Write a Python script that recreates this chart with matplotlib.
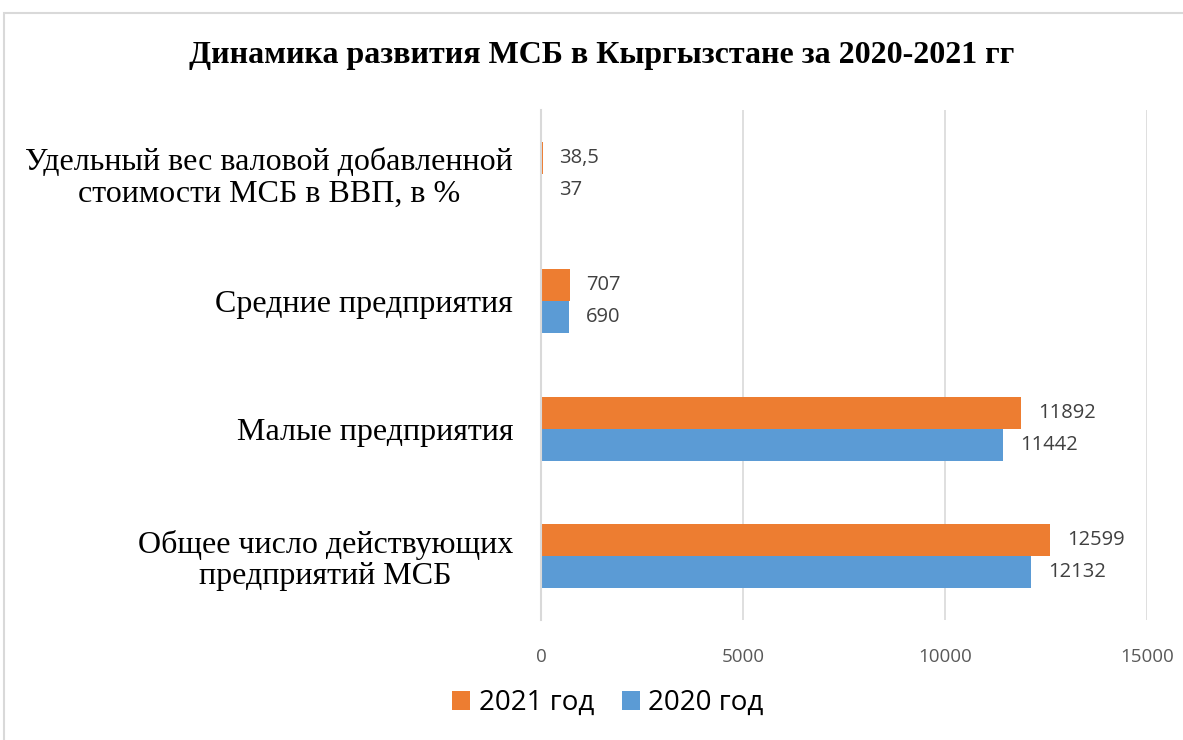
import matplotlib.pyplot as plt
from matplotlib.patches import Rectangle

# данные
categories = ['Общее число действующих\nпредприятий МСБ', 'Малые предприятия',
              'Средние предприятия', 'Удельный вес валовой добавленной\nстоимости МСБ в ВВП, в %']
values_2021 = [12599, 11892, 707, 38.5]
values_2020 = [12132, 11442, 690, 37]
labels_2021 = ['12599', '11892', '707', '38,5']
labels_2020 = ['12132', '11442', '690', '37']
xticks = [0, 5000, 10000, 15000]

orange = '#ED7D31'
blue = '#5B9BD5'

W, H = 1183, 740
fig = plt.figure(figsize=(W / 100, H / 100), dpi=100)
ax = fig.add_axes([541 / W, 1 - 620 / H, (1147 - 541) / W, (620 - 110) / H])

# рамка диаграммы
fig.patches.append(Rectangle((4 / W, -0.1), 1.2, 1 - 13 / H + 0.1, transform=fig.transFigure,
                             fill=False, edgecolor='#D9D9D9', linewidth=1.5))

y = range(len(categories))
h = 0.25
b21 = ax.barh([i + h / 2 for i in y], values_2021, height=h, color=orange, label='2021 год', zorder=3)
b20 = ax.barh([i - h / 2 for i in y], values_2020, height=h, color=blue, label='2020 год', zorder=3)

for bars, labs in ((b21, labels_2021), (b20, labels_2020)):
    for bar, lab in zip(bars, labs):
        ax.text(bar.get_width() + 420, bar.get_y() + bar.get_height() / 2, lab,
                va='center', ha='left', fontsize=14.5, color='#404040', family='Open Sans')

ax.set_xlim(0, 15000)
ax.set_ylim(-0.5, 3.5)
ax.set_xticks(xticks)
ax.set_xticklabels([str(t) for t in xticks], fontsize=13.5, color='#595959', family='Open Sans')
ax.set_yticks(list(y))
ax.set_yticklabels(categories, fontsize=23, family='Liberation Serif', ha='right',
                   multialignment='center', linespacing=1.1)
ax.tick_params(axis='x', length=0, pad=20)
ax.tick_params(axis='y', length=0, pad=20)
ax.grid(axis='x', color='#D9D9D9', linewidth=1.2, zorder=0)
for s in ('top', 'right', 'bottom'):
    ax.spines[s].set_visible(False)
ax.spines['left'].set_color('#D9D9D9')
ax.spines['left'].set_linewidth(1.5)
ax.spines['left'].set_zorder(4)

fig.text(602 / W, 1 - 55 / H, 'Динамика развития МСБ в Кыргызстане за 2020-2021 гг',
         ha='center', va='center', fontsize=23, fontweight='bold', family='Liberation Serif')

fig.legend(handles=[b21, b20], loc='center', bbox_to_anchor=(608 / W, 1 - 703 / H), ncol=2,
           frameon=False, prop={'family': 'Open Sans', 'size': 20}, handlelength=0.65,
           handleheight=0.65, handletextpad=0.3, columnspacing=1.0)

fig.savefig('out.png', dpi=100)
